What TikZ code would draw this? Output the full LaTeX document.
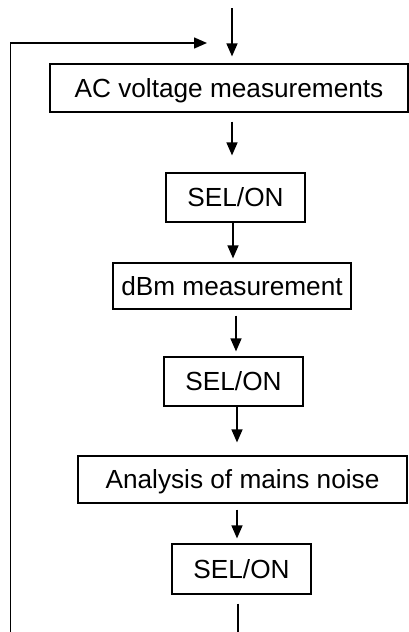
\documentclass[tikz,border=0pt]{standalone}
\usepackage{fontspec}
\setmainfont{Liberation Sans}
\usetikzlibrary{arrows.meta}
\begin{document}
\begin{tikzpicture}[x=1pt,y=-1pt,
  box/.style={draw=black,line width=1.2pt,inner sep=0pt,text height=18.7pt,text depth=0pt,
    font=\fontsize{26.2}{30}\selectfont},
  arr/.style={line width=1.4pt,-{Triangle[length=13pt,width=11pt]}},
  plain/.style={line width=1.4pt}]
\useasboundingbox (0,0) rectangle (409,632);
\node[box,minimum width=358pt,minimum height=48pt] (b1) at (229,88) {AC voltage measurements};
\node[box,minimum width=139pt,minimum height=49pt] (s1) at (235.5,197.5) {SEL/ON};
\node[box,minimum width=238pt,minimum height=46pt] (b2) at (232,286) {dBm measurement};
\node[box,minimum width=139pt,minimum height=49pt] (s2) at (233.5,381.5) {SEL/ON};
\node[box,minimum width=329pt,minimum height=47pt] (b3) at (242.5,479.5) {Analysis of mains noise};
\node[box,minimum width=139pt,minimum height=50pt] (s3) at (241.5,569) {SEL/ON};
\coordinate (in) at (232,8);
\coordinate (out) at (238,632);
\coordinate (loopbot) at (10.5,632);
\coordinate (loopcorner) at (10.5,43);
\coordinate (loopend) at (207,43);
\draw[arr] (in) -- ([xshift=3pt,yshift=7pt]b1.north);
\draw[arr] ([xshift=3pt,yshift=-9pt]b1.south) -- ([xshift=-3.5pt,yshift=17pt]s1.north);
\draw[arr] ([xshift=-2.5pt]s1.south) -- ([xshift=1pt,yshift=4pt]b2.north);
\draw[arr] ([xshift=4pt,yshift=-6pt]b2.south) -- ([xshift=2.5pt,yshift=5pt]s2.north);
\draw[arr] ([xshift=3.5pt]s2.south) -- ([xshift=-5.5pt,yshift=13pt]b3.north);
\draw[arr] ([xshift=-5.5pt,yshift=-6pt]b3.south) -- ([xshift=-4.5pt,yshift=5pt]s3.north);
\draw[plain] ([xshift=-3.5pt,yshift=-9pt]s3.south) -- (out);
\draw[arr] (loopbot) -- (loopcorner) -- (loopend);
\end{tikzpicture}
\end{document}
